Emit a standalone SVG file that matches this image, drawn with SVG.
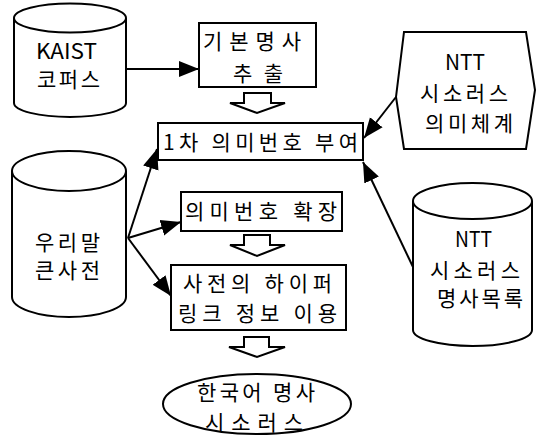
<svg xmlns="http://www.w3.org/2000/svg" width="538" height="440" viewBox="0 0 538 440">
<style>
.s{fill:#fff;stroke:#000;stroke-width:2}
.t{font-family:"Noto Sans CJK KR","Noto Sans",sans-serif;font-size:21px;fill:#000;dominant-baseline:central}
.c{stroke:#000;stroke-width:2;fill:none;marker-end:url(#ah)}
.b{fill:#fff;stroke:#000;stroke-width:2;stroke-linejoin:miter}
</style>
<defs>
<marker id="ah" markerUnits="userSpaceOnUse" markerWidth="22" markerHeight="18" refX="20" refY="8" orient="auto" viewBox="0 0 22 16">
<path d="M0,0 L20,8 L0,16 Z" fill="#000"/>
</marker>
</defs>
<rect width="538" height="440" fill="#fff"/>
<g id="kaist">
<path class="s" d="M14,18 L14,103 A56,14 0 0 0 126,103 L126,18"/>
<ellipse class="s" cx="70" cy="18" rx="56" ry="14.5"/>
<text class="t" x="36" y="50" textLength="61" lengthAdjust="spacingAndGlyphs">KAIST</text>
<text class="t" x="37" y="78" textLength="63">코퍼스</text>
</g>
<g id="extract">
<rect class="s" x="199" y="23" width="117" height="64"/>
<text class="t" x="203" y="40" textLength="98">기본명사</text>
<text class="t" x="233" y="72" textLength="50">추출</text>
</g>
<g id="ntt-sem">
<polygon class="s" points="404,32 526,32 535,90 526,149 404,149 396,97"/>
<text class="t" x="445" y="61" textLength="40" lengthAdjust="spacingAndGlyphs">NTT</text>
<text class="t" x="420" y="92" textLength="88">시소러스</text>
<text class="t" x="425" y="122" textLength="88">의미체계</text>
</g>
<g id="assign">
<rect class="s" x="158" y="123" width="205" height="37"/>
<text class="t" x="163" y="141" textLength="195" xml:space="preserve">1차 의미번호 부여</text>
</g>
<g id="urimal">
<path class="s" d="M12,171 L12,297 A57,20 0 0 0 126,297 L126,171"/>
<ellipse class="s" cx="69" cy="171" rx="57" ry="20"/>
<text class="t" x="35" y="241" textLength="65">우리말</text>
<text class="t" x="35" y="269" textLength="65">큰사전</text>
</g>
<g id="expand">
<rect class="s" x="181" y="192" width="161" height="39"/>
<text class="t" x="185" y="210" textLength="152" xml:space="preserve">의미번호 확장</text>
</g>
<g id="ntt-noun">
<path class="s" d="M413,201 L413,330 A59.5,16 0 0 0 532,330 L532,201"/>
<ellipse class="s" cx="472.5" cy="201" rx="59.5" ry="18"/>
<text class="t" x="455" y="238" textLength="37" lengthAdjust="spacingAndGlyphs">NTT</text>
<text class="t" x="430" y="269" textLength="90">시소러스</text>
<text class="t" x="437" y="297" textLength="86">명사목록</text>
</g>
<g id="hyper">
<rect class="s" x="171" y="265" width="175" height="65"/>
<text class="t" x="183" y="282" textLength="149" xml:space="preserve">사전의 하이퍼</text>
<text class="t" x="178" y="312" textLength="159" xml:space="preserve">링크 정보 이용</text>
</g>
<g id="result">
<ellipse class="s" cx="257" cy="404" rx="94" ry="30"/>
<text class="t" x="197" y="391" textLength="118" xml:space="preserve">한국어 명사</text>
<text class="t" x="205" y="421" textLength="98">시소러스</text>
</g>
<g id="connectors">
<line class="c" x1="126" y1="69" x2="199" y2="69"/>
<line class="c" x1="396" y1="97" x2="364" y2="138"/>
<line class="c" x1="413" y1="267" x2="363" y2="162"/>
<line class="c" x1="128" y1="238" x2="157" y2="149"/>
<line class="c" x1="128" y1="238" x2="181" y2="222"/>
<line class="c" x1="128" y1="238" x2="171" y2="296"/>
<polygon class="b" points="244,93 271,93 271,103 285,103 257,113 230,103 244,103"/>
<polygon class="b" points="244,235 270,235 270,245 285,245 257,256 230,245 244,245"/>
<polygon class="b" points="244,337 269,337 269,347 285,347 257,357 229,347 244,347"/>
</g>
</svg>
